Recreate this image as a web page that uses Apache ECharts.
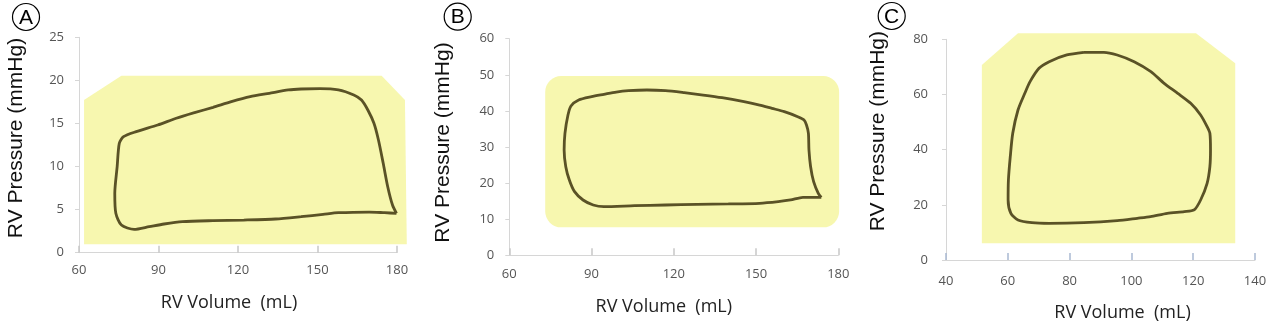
<!DOCTYPE html>
<html><head><meta charset="utf-8">
<script src="https://cdn.jsdelivr.net/npm/echarts@6/dist/echarts.min.js"></script>
<style>html,body{margin:0;padding:0;background:#fff}#c{width:1273px;height:329px}</style>
</head><body><div id="c"></div>
<script>
// ---- Panel A data (RV volume mL, RV pressure mmHg) ----
const loopA = [[179.8,4.57],[178.3,5.53],[176.5,7.66],[174.8,10.37],[173.0,13.08],[171.3,15.02],[169.0,16.56],[166.6,17.72],[163.7,18.30],[157.9,18.89],[150.9,19.04],[143.8,19.0],[139.0,18.89],[131.8,18.5],[124.6,18.11],[117.5,17.53],[110.6,16.87],[103.6,16.25],[96.7,15.6],[89.7,14.82],[81.6,14.05],[76.8,13.47],[75.2,12.69],[74.4,9.98],[73.5,6.89],[73.9,4.57],[76.0,3.21],[80.8,2.71],[86.5,3.02],[92.1,3.33],[99.0,3.6],[110.5,3.72],[122.2,3.79],[134.2,3.91],[143.8,4.18],[152.1,4.45],[157.9,4.64],[169.5,4.72],[175.3,4.64],[179.8,4.57]];
const bgA = [[61.9,0.97],[61.9,17.72],[76.0,20.55],[174.2,20.55],[183.0,17.72],[183.7,0.97]];
const xTicksA = [60,90,120,150,180];
const yTicksA = [0,5,10,15,20,25];

// ---- Panel B data ----
const loopB = [[173.8,16.06],[172.7,17.17],[171.0,20.4],[169.9,24.55],[169.3,29.17],[169.1,33.79],[168.4,36.09],[167.5,37.48],[165.2,38.4],[160.3,39.79],[155.8,40.71],[151.3,41.63],[145.6,42.56],[137.6,43.66],[130.7,44.4],[123.8,45.05],[117.0,45.6],[110.2,45.79],[103.5,45.6],[99.0,45.23],[94.5,44.59],[90.0,43.94],[85.3,43.02],[82.5,41.36],[81.4,38.86],[80.3,33.79],[80.0,29.17],[80.6,24.55],[81.9,20.86],[83.8,17.63],[86.9,15.32],[90.6,13.94],[94.5,13.48],[105.7,13.75],[117.0,13.94],[128.4,14.12],[139.9,14.22],[151.3,14.4],[158.1,14.86],[162.6,15.32],[167.1,16.06],[173.8,16.06]];
const bgB = [[73.1,7.75],[180.3,49.66]];
const xTicksB = [60,90,120,150,180];
const yTicksB = [0,10,20,30,40,50,60];

// ---- Panel C data ----
const loopC = [[84.6,75.29],[91.1,75.29],[95.4,74.32],[100.9,71.9],[106.3,68.28],[110.6,64.05],[115.0,60.42],[119.2,56.8],[122.4,52.57],[124.5,48.34],[125.4,45.92],[125.6,39.88],[125.4,33.84],[124.5,27.79],[122.4,21.75],[120.3,18.13],[117.1,17.52],[111.6,16.92],[106.2,15.71],[101.9,15.11],[95.4,14.26],[84.6,13.53],[73.4,13.29],[67.8,13.53],[63.3,14.5],[61.0,16.92],[60.1,21.75],[60.2,29.0],[60.8,37.46],[61.6,45.92],[63.3,54.38],[65.5,60.42],[67.2,64.65],[70.1,69.49],[73.4,71.9],[79.1,74.32],[84.6,75.29]];
const bgC = [[51.6,6.04],[51.6,70.7],[63.3,82.2],[120.9,82.2],[133.6,71.3],[133.6,6.04]];
const xTicksC = [40,60,80,100,120,140];
const yTicksC = [0,20,40,60,80];

const panelLetters = ['A','B','C'];
const xTitle = 'RV Volume  (mL)';
const yTitle = 'RV Pressure (mmHg)';

const YELLOW = '#f7f7af';
const LOOP = '#5a5226';
const AXIS = '#d6d6d6';
const LABEL = '#555555';

const chart = echarts.init(document.getElementById('c'), null, {renderer:'canvas'});

const grids = [
  {left:79, top:37.3, width:318, height:215.4},
  {left:509.3, top:38.7, width:329, height:216.6},
  {left:946, top:39.3, width:309, height:220.7}
];
const xT = [xTicksA, xTicksB, xTicksC];
const yT = [yTicksA, yTicksB, yTicksC];
const xMargins = [11, 12, 15];
const yMargins = [15, 15, 18];
const yNameGaps = [52, 56, 57];
const yNamePad = [[0,0,0,14],[0,0,0,9],[0,0,0,37]];
const xNameGaps = [41, 43, 44];
const xNamePad = [[0,18,0,0],[0,20,0,0],[0,0,0,44]];
const tickColors = ['#c8c8c8','#c8c8c8','#a9b9d2'];

const xAxes = xT.map((t,i)=>({
  type:'value', gridIndex:i, min:t[0], max:t[t.length-1], interval:t[1]-t[0],
  splitLine:{show:false},
  axisLine:{show:true, lineStyle:{color:AXIS, width:1}},
  axisTick:{show:true, inside:true, length:7, lineStyle:{color:tickColors[i], width:1.5}},
  axisLabel:{color:LABEL, fontFamily:'Open Sans', fontSize:13, margin:xMargins[i]},
  name:xTitle, nameLocation:'middle', nameGap:xNameGaps[i],
  nameTextStyle:{color:'#222', fontFamily:'Open Sans', fontSize:18, padding:xNamePad[i]}
}));
const yAxes = yT.map((t,i)=>({
  type:'value', gridIndex:i, min:t[0], max:t[t.length-1], interval:t[1]-t[0],
  splitLine:{show:false},
  axisLine:{show:true, lineStyle:{color:AXIS, width:1}},
  axisTick:{show:true, length:4, lineStyle:{color:AXIS}},
  axisLabel:{color:LABEL, fontFamily:'Open Sans', fontSize:13, margin:yMargins[i]},
  name:yTitle, nameLocation:'middle', nameGap:yNameGaps[i], nameRotate:90,
  nameTextStyle:{color:'#111', fontFamily:'Liberation Sans', fontSize:21, padding:yNamePad[i]}
}));

function polyBg(data, idx){
  return {
    type:'custom', xAxisIndex:idx, yAxisIndex:idx, z:1, silent:true, clip:false,
    data:data,
    renderItem:function(params, api){
      if(params.dataIndex!==0) return;
      const pts = data.map(p=>api.coord(p));
      return {type:'polygon', shape:{points:pts}, style:{fill:YELLOW}};
    }
  };
}
function rectBg(data, idx){
  return {
    type:'custom', xAxisIndex:idx, yAxisIndex:idx, z:1, silent:true, clip:false,
    data:data,
    renderItem:function(params, api){
      if(params.dataIndex!==0) return;
      const a = api.coord(data[0]), b = api.coord(data[1]);
      return {type:'rect', shape:{x:Math.min(a[0],b[0]), y:Math.min(a[1],b[1]), width:Math.abs(b[0]-a[0]), height:Math.abs(b[1]-a[1]), r:16}, style:{fill:YELLOW}};
    }
  };
}
function loopSeries(data, idx){
  return {
    type:'line', xAxisIndex:idx, yAxisIndex:idx, z:3, data:data,
    showSymbol:false, symbol:'none', smooth:0.25, clip:false,
    lineStyle:{color:LOOP, width:2.8}, silent:true, animation:false
  };
}

const letterCenters = [[26,17],[457.7,16.7],[891.7,16]];
const graphics = [];
letterCenters.forEach((c,i)=>{
  graphics.push({type:'circle', shape:{cx:c[0], cy:c[1], r:13.5}, style:{fill:'#fff', stroke:'#000', lineWidth:1.2}, z:10});
  graphics.push({type:'text', x:c[0], y:c[1]+1, style:{text:panelLetters[i], fill:'#000', font:'21px "Liberation Sans"', align:'center', verticalAlign:'middle'}, z:11});
});

chart.setOption({
  animation:false,
  backgroundColor:'#fff',
  grid:grids,
  xAxis:xAxes,
  yAxis:yAxes,
  series:[polyBg(bgA,0), loopSeries(loopA,0), rectBg(bgB,1), loopSeries(loopB,1), polyBg(bgC,2), loopSeries(loopC,2)],
  graphic:graphics
});
</script></body></html>
